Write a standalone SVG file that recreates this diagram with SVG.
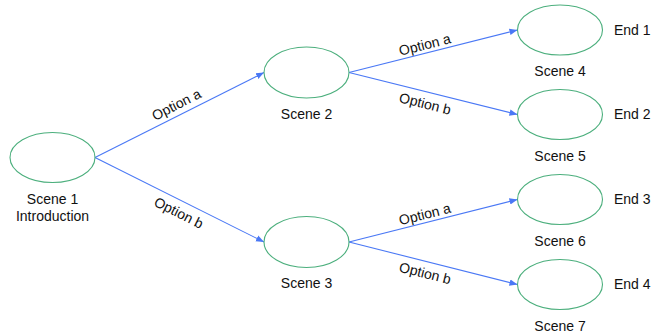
<svg xmlns="http://www.w3.org/2000/svg" width="653" height="335" viewBox="0 0 653 335">
<style>
.node{fill:none;stroke:#4caf7d;stroke-width:1.1}
.edge{stroke:#4a78f5;stroke-width:1.1;fill:none}
.lbl{font-family:"Liberation Sans",Arial,sans-serif;font-size:14px;fill:#111}
.mid{text-anchor:middle}
</style>
<defs>
<marker id="arr" viewBox="0 0 10 10" refX="10" refY="5" markerWidth="8" markerHeight="8" markerUnits="userSpaceOnUse" orient="auto">
<path d="M0,1 L10,5 L0,9 z" fill="#4a78f5"/>
</marker>
</defs>
<rect width="653" height="335" fill="#fff"/>
<g id="connectors">
<line class="edge" x1="95" y1="157.5" x2="264" y2="72.5" marker-end="url(#arr)"/>
<line class="edge" x1="95" y1="157.5" x2="264" y2="242" marker-end="url(#arr)"/>
<line class="edge" x1="349" y1="72.5" x2="517.5" y2="30" marker-end="url(#arr)"/>
<line class="edge" x1="349" y1="72.5" x2="517.5" y2="114.5" marker-end="url(#arr)"/>
<line class="edge" x1="349" y1="242" x2="517.5" y2="199.5" marker-end="url(#arr)"/>
<line class="edge" x1="349" y1="242" x2="517.5" y2="284.5" marker-end="url(#arr)"/>
<text class="lbl mid" x="178.6" y="109" transform="rotate(-26.7 178.6 109)">Option a</text>
<text class="lbl mid" x="176.7" y="217.1" transform="rotate(26.7 176.7 217.1)">Option b</text>
<text class="lbl mid" x="426" y="49.4" transform="rotate(-14 426 49.4)">Option a</text>
<text class="lbl mid" x="424" y="108.4" transform="rotate(14 424 108.4)">Option b</text>
<text class="lbl mid" x="426" y="218.9" transform="rotate(-14 426 218.9)">Option a</text>
<text class="lbl mid" x="424" y="277.9" transform="rotate(14 424 277.9)">Option b</text>
</g>
<g id="scene1">
<ellipse class="node" cx="52.5" cy="157.5" rx="42.5" ry="25"/>
<text class="lbl mid" x="52.5" y="203.5">Scene 1</text>
<text class="lbl mid" x="52.5" y="220.5">Introduction</text>
</g>
<g id="scene2">
<ellipse class="node" cx="306.5" cy="72.5" rx="42.5" ry="25.5"/>
<text class="lbl mid" x="306.5" y="118.5">Scene 2</text>
</g>
<g id="scene3">
<ellipse class="node" cx="306.5" cy="242" rx="42.5" ry="25.5"/>
<text class="lbl mid" x="306.5" y="288">Scene 3</text>
</g>
<g id="scene4">
<ellipse class="node" cx="560" cy="30" rx="42.5" ry="25"/>
<text class="lbl mid" x="560" y="76">Scene 4</text>
<text class="lbl" x="614" y="34.5">End 1</text>
</g>
<g id="scene5">
<ellipse class="node" cx="560" cy="114.5" rx="42.5" ry="25"/>
<text class="lbl mid" x="560" y="160.5">Scene 5</text>
<text class="lbl" x="614" y="119">End 2</text>
</g>
<g id="scene6">
<ellipse class="node" cx="560" cy="199.5" rx="42.5" ry="25"/>
<text class="lbl mid" x="560" y="245.5">Scene 6</text>
<text class="lbl" x="614" y="204">End 3</text>
</g>
<g id="scene7">
<ellipse class="node" cx="560" cy="284.5" rx="42.5" ry="25"/>
<text class="lbl mid" x="560" y="330.5">Scene 7</text>
<text class="lbl" x="614" y="289">End 4</text>
</g>
</svg>
